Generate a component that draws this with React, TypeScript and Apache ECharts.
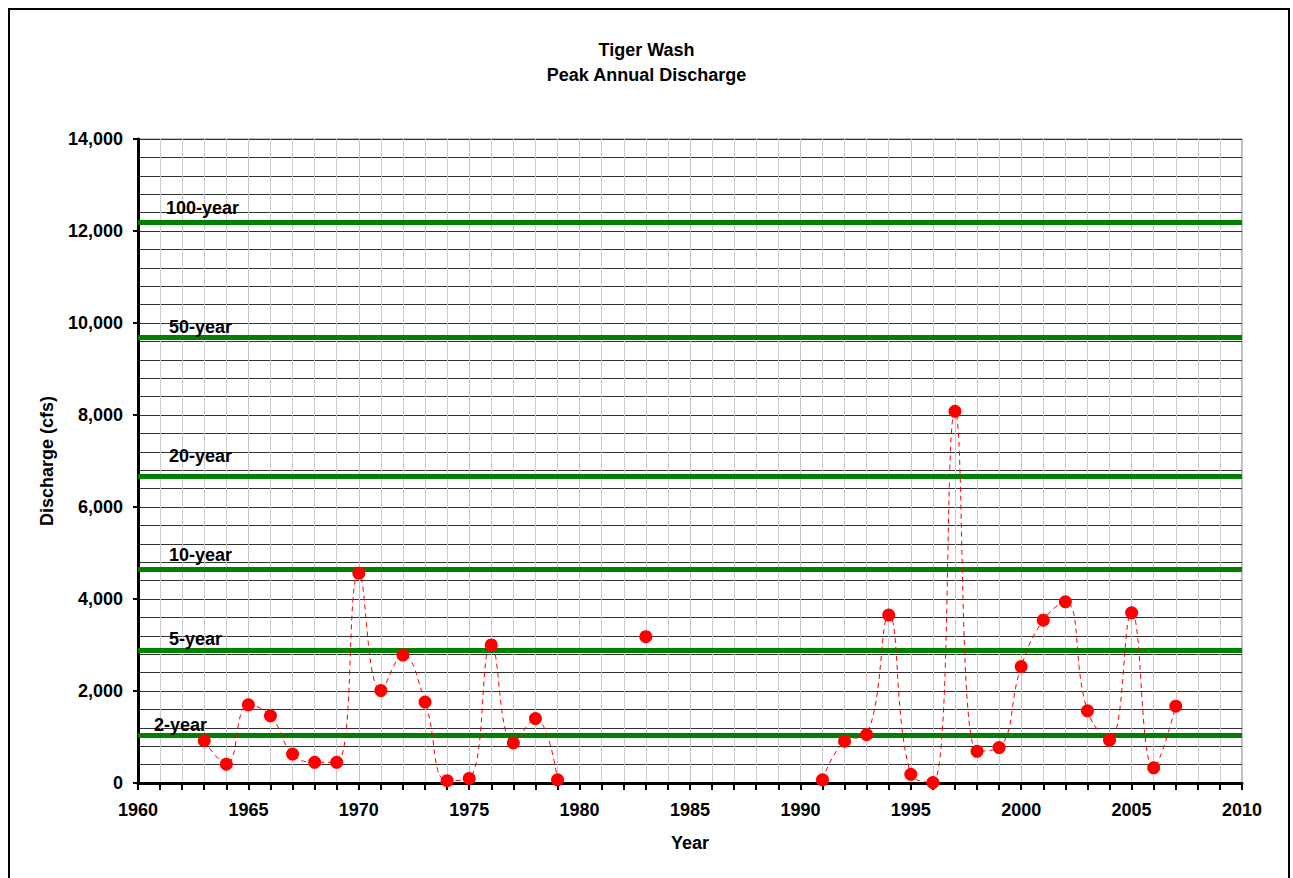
import React, { useEffect, useRef } from "react";
import * as echarts from "echarts";

const years = [1963, 1964, 1965, 1966, 1967, 1968, 1969, 1970, 1971, 1972, 1973, 1974, 1975, 1976, 1977, 1978, 1979, 1980, 1981, 1982, 1983, 1984, 1985, 1986, 1987, 1988, 1989, 1990, 1991, 1992, 1993, 1994, 1995, 1996, 1997, 1998, 1999, 2000, 2001, 2002, 2003, 2004, 2005, 2006, 2007];
const discharge: (number | null)[] = [920, 410, 1700, 1460, 630, 450, 450, 4560, 2010, 2780, 1760, 50, 100, 3000, 870, 1400, 70, null, null, null, 3180, null, null, null, null, null, null, null, 70, 910, 1050, 3650, 190, 10, 8080, 690, 770, 2530, 3540, 3940, 1570, 930, 3700, 330, 1670];

const returnLabels = ["2-year", "5-year", "10-year", "20-year", "50-year", "100-year"];
const returnValues = [1030, 2890, 4650, 6670, 9700, 12200];

// label placement offsets [dx, dy] (style only)
const labelOffsets: [number, number][] = [[16, 2], [31, 2], [31, 5], [31, 11], [31, 1], [28, 5]];

const FONT = "Arial, 'Liberation Sans', sans-serif";

export default function App() {
  const ref = useRef<HTMLDivElement>(null);
  useEffect(() => {
    if (!ref.current) return;
    const chart = echarts.init(ref.current, null, { renderer: "svg" });
    const data = years.map((y, i) => [y, discharge[i] === null ? "-" : discharge[i]]);
    chart.setOption({
      animation: false,
      backgroundColor: "#ffffff",
      textStyle: { fontFamily: FONT },
      title: {
        text: "Tiger Wash\nPeak Annual Discharge",
        left: "center",
        top: 37,
        padding: 0,
        textStyle: { fontFamily: FONT, fontSize: 18, fontWeight: "bold", color: "#000", lineHeight: 25 },
      },
      graphic: [
        {
          type: "polyline",
          shape: { points: [[9, 900], [9, 9], [1289, 9], [1289, 900]] },
          style: { stroke: "#000", lineWidth: 2, fill: "none" },
          silent: true,
        },
      ],
      grid: {
        left: 138,
        right: 51,
        top: 139,
        bottom: 95,
        show: true,
        borderColor: "#808080",
        borderWidth: 1,
        backgroundColor: "transparent",
      },
      xAxis: {
        type: "value",
        min: 1960,
        max: 2010,
        interval: 5,
        name: "Year",
        nameLocation: "middle",
        nameGap: 51,
        nameTextStyle: { fontFamily: FONT, fontSize: 18, fontWeight: "bold", color: "#000" },
        axisLine: { show: true, onZero: false, lineStyle: { color: "#000", width: 3 } },
        axisTick: { show: true, length: 7, lineStyle: { color: "#000", width: 2 } },
        minorTick: { show: true, splitNumber: 5, length: 7, lineStyle: { color: "#000", width: 2 } },
        axisLabel: {
          margin: 18,
          fontFamily: FONT,
          fontSize: 18,
          fontWeight: "bold",
          color: "#000",
          formatter: (v: number) => String(v),
        },
        splitLine: { show: true, lineStyle: { color: "#c4c4c4", width: 1 } },
        minorSplitLine: { show: true, lineStyle: { color: "#cccccc", width: 1 } },
      },
      yAxis: {
        type: "value",
        min: 0,
        max: 14000,
        interval: 2000,
        name: "Discharge (cfs)",
        nameLocation: "middle",
        nameGap: 82,
        nameTextStyle: { fontFamily: FONT, fontSize: 18, fontWeight: "bold", color: "#000" },
        axisLine: { show: true, lineStyle: { color: "#000", width: 3 } },
        axisTick: { show: true, length: 5, lineStyle: { color: "#000", width: 2 } },
        minorTick: { show: false, splitNumber: 5 },
        axisLabel: { margin: 15, fontFamily: FONT, fontSize: 18, fontWeight: "bold", color: "#000" },
        splitLine: { show: true, lineStyle: { color: "#303030", width: 1 } },
        minorSplitLine: { show: true, lineStyle: { color: "#303030", width: 1 } },
      },
      series: [
        {
          type: "line",
          data: [],
          silent: true,
          markLine: {
            silent: true,
            symbol: ["none", "none"],
            animation: false,
            lineStyle: { color: "#008000", width: 5, type: "solid" },
            data: returnValues.map((v, i) => ({
              yAxis: v,
              name: returnLabels[i],
              label: {
                show: true,
                position: "insideStartTop",
                distance: labelOffsets[i],
                formatter: returnLabels[i],
                fontFamily: FONT,
                fontSize: 18,
                fontWeight: "bold",
                color: "#000",
              },
            })),
          },
        },
        {
          type: "line",
          data,
          smooth: 0.45,
          connectNulls: false,
          symbol: "circle",
          symbolSize: 13,
          showSymbol: true,
          showAllSymbol: true,
          itemStyle: { color: "#ff0000" },
          lineStyle: { color: "#ff0000", width: 1, type: [5, 4] },
          z: 5,
        },
      ],
    });
    return () => chart.dispose();
  }, []);
  return (
    <div
      ref={ref}
      style={{ position: "fixed", left: 0, top: 0, width: 1293, height: 878, background: "#fff" }}
    />
  );
}
